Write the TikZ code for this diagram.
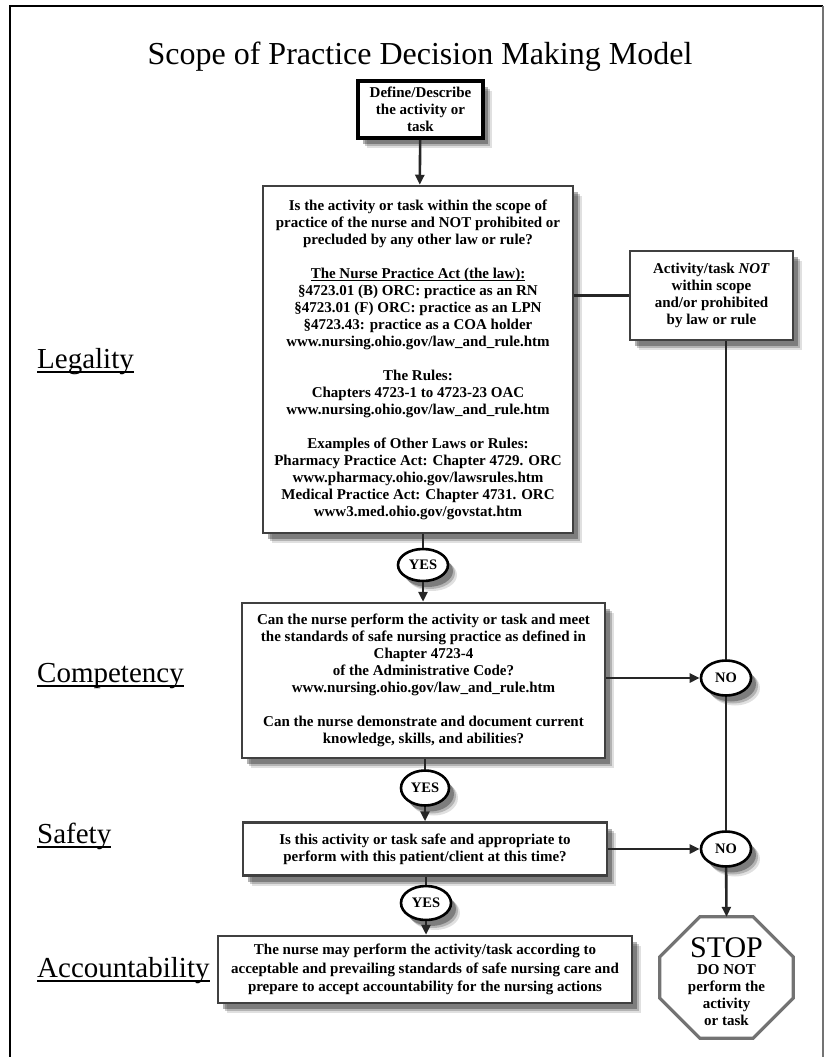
\documentclass[tikz,border=0pt]{standalone}
\usepackage{fontspec}
\setmainfont{Liberation Serif}
\usetikzlibrary{arrows.meta,shapes.geometric,shadows,calc}
\newcommand{\myul}[3]{\setbox0\hbox{#1}\rlap{\rule[-#2]{\wd0}{#3}}\box0}

\begin{document}
\begin{tikzpicture}[x=1pt,y=-1pt,
  shadowed/.style={
    drop shadow={shadow xshift=9pt, shadow yshift=-10pt, fill=black, opacity=.12},
    drop shadow={shadow xshift=7pt, shadow yshift=-8pt, fill=black, opacity=.2},
    drop shadow={shadow xshift=5pt, shadow yshift=-6pt, fill=black, opacity=.3}},
  box/.style={draw=black!75, line width=2.5pt, fill=white, align=center, inner sep=0pt,
     font=\bfseries\fontsize{15}{17}\selectfont, shadowed},
  oval/.style={ellipse, draw=black, line width=2.6pt, fill=white, inner sep=0pt,
     font=\bfseries\fontsize{14.5}{14.5}\selectfont, shadowed},
  conn/.style={line width=2.6pt, draw=black!85},
  arr/.style={conn, -{Triangle[length=10pt,width=9pt]}},
  lbl/.style={anchor=base west, inner sep=0pt, font=\fontsize{29}{29}\selectfont}
]
\useasboundingbox (0,0) rectangle (826,1057);

% frame
\draw[line width=2.5pt, black] (10,1057) -- (10,6) -- (823,6);
\draw[line width=1.5pt, black!55] (823,6) -- (823,1057);

% title
\node (title) [anchor=base, inner sep=0pt, font=\fontsize{32}{32}\selectfont] at (420,65)
  {Scope of Practice Decision Making Model};

% side labels
\node (lleg)  [lbl] at (37,368) {\myul{Legality}{4.5pt}{1.6pt}};
\node (lcomp) [lbl] at (37,682) {\myul{Competency}{4.5pt}{1.6pt}};
\node (lsafe) [lbl] at (37,843) {\myul{Safety}{4.5pt}{1.6pt}};
\node (lacc)  [lbl] at (37,977) {\myul{Accountability}{4.5pt}{1.6pt}};

% boxes
\node (define) [box, draw=black, line width=3.6pt, minimum width=125pt, minimum height=57pt]
  at (420.5,109.5) {Define/Describe\\the activity or\\task};

\node (legality) [box, minimum width=310pt, minimum height=347pt] at (418,359.5)
  {Is the activity or task within the scope of\\
   practice of the nurse and NOT prohibited or\\
   precluded by any other law or rule?\\[17pt]
   \myul{The Nurse Practice Act (the law):}{2.5pt}{1pt}\\
   §4723.01 (B) ORC: practice as an RN\\
   §4723.01 (F) ORC: practice as an LPN\\
   §4723.43: practice as a COA holder\\
   www.nursing.ohio.gov/law\_and\_rule.htm\\[17pt]
   The Rules:\\
   Chapters 4723-1 to 4723-23 OAC\\
   www.nursing.ohio.gov/law\_and\_rule.htm\\[17pt]
   Examples of Other Laws or Rules:\\
   Pharmacy Practice Act: Chapter 4729. ORC\\
   www.pharmacy.ohio.gov/lawsrules.htm\\
   Medical Practice Act: Chapter 4731. ORC\\
   www3.med.ohio.gov/govstat.htm};

\node (act) [box, minimum width=163pt, minimum height=89pt] at (711.5,295.5)
  {Activity/task \textit{NOT}\\within scope\\and/or prohibited\\by law or rule};

\node (yes1) [oval, minimum width=50pt, minimum height=32pt] at (423,565) {YES};

\node (comp) [box, minimum width=363pt, minimum height=155pt] at (423.5,680.5)
  {Can the nurse perform the activity or task and meet\\
   the standards of safe nursing practice as defined in\\
   Chapter 4723-4\\
   of the Administrative Code?\\
   www.nursing.ohio.gov/law\_and\_rule.htm\\[17pt]
   Can the nurse demonstrate and document current\\
   knowledge, skills, and abilities?};

\node (no1) [oval, minimum width=50pt, minimum height=35pt] at (726,678) {NO};

\node (yes2) [oval, minimum width=48pt, minimum height=35pt] at (425,788) {YES};

\node (safety) [box, minimum width=364pt, minimum height=53pt] at (425,849)
  {Is this activity or task safe and appropriate to\\
   perform with this patient/client at this time?};

\node (no2) [oval, minimum width=50pt, minimum height=35pt] at (726,849) {NO};

\node (yes3) [oval, minimum width=50pt, minimum height=34pt] at (426,903) {YES};

\node (acc) [box, minimum width=414pt, minimum height=67pt, font=\bfseries\fontsize{15}{18.5}\selectfont]
  at (425,969.5)
  {The nurse may perform the activity/task according to\\
   acceptable and prevailing standards of safe nursing care and\\
   prepare to accept accountability for the nursing actions};

% STOP octagon
\node (stop) [minimum width=133pt, minimum height=121pt, inner sep=0pt] at (726.5,977.5) {};
\draw[draw=black!55, line width=3.2pt, line join=miter]
  ($(stop.north west)+(40,0)$) -- ($(stop.north east)+(-40,0)$) --
  ($(stop.north east)+(0,40)$) -- ($(stop.south east)+(0,-40)$) --
  ($(stop.south east)+(-40,0)$) -- ($(stop.south west)+(40,0)$) --
  ($(stop.south west)+(0,-40)$) -- ($(stop.north west)+(0,40)$) -- cycle;
\node (stoptext) [inner sep=0pt, align=center, font=\bfseries\fontsize{15}{17}\selectfont]
  at ($(stop.center)+(0,4)$)
  {{\mdseries\fontsize{30}{30}\selectfont STOP}\\DO NOT\\perform the\\activity\\or task};

% connectors
\draw[arr] (define) -- (legality);
\draw[conn] (legality.south -| yes1) -- (yes1);
\draw[arr] (yes1) -- (yes1 |- comp.north);
\draw[conn] (comp.south -| yes2) -- (yes2);
\draw[arr] (yes2) -- (yes2 |- safety.north);
\draw[conn] (safety.south -| yes3) -- (yes3);
\draw[arr] (yes3) -- (yes3 |- acc.north);
\draw[conn] (legality.east |- act.west) -- (act.west);
\draw[conn] (act.south -| no1) -- (no1);
\draw[arr] (comp.east |- no1) -- (no1);
\draw[conn] (no1) -- (no2);
\draw[arr] (safety.east |- no2) -- (no2);
\draw[arr] (no2) -- (stop.north);
\end{tikzpicture}
\end{document}
